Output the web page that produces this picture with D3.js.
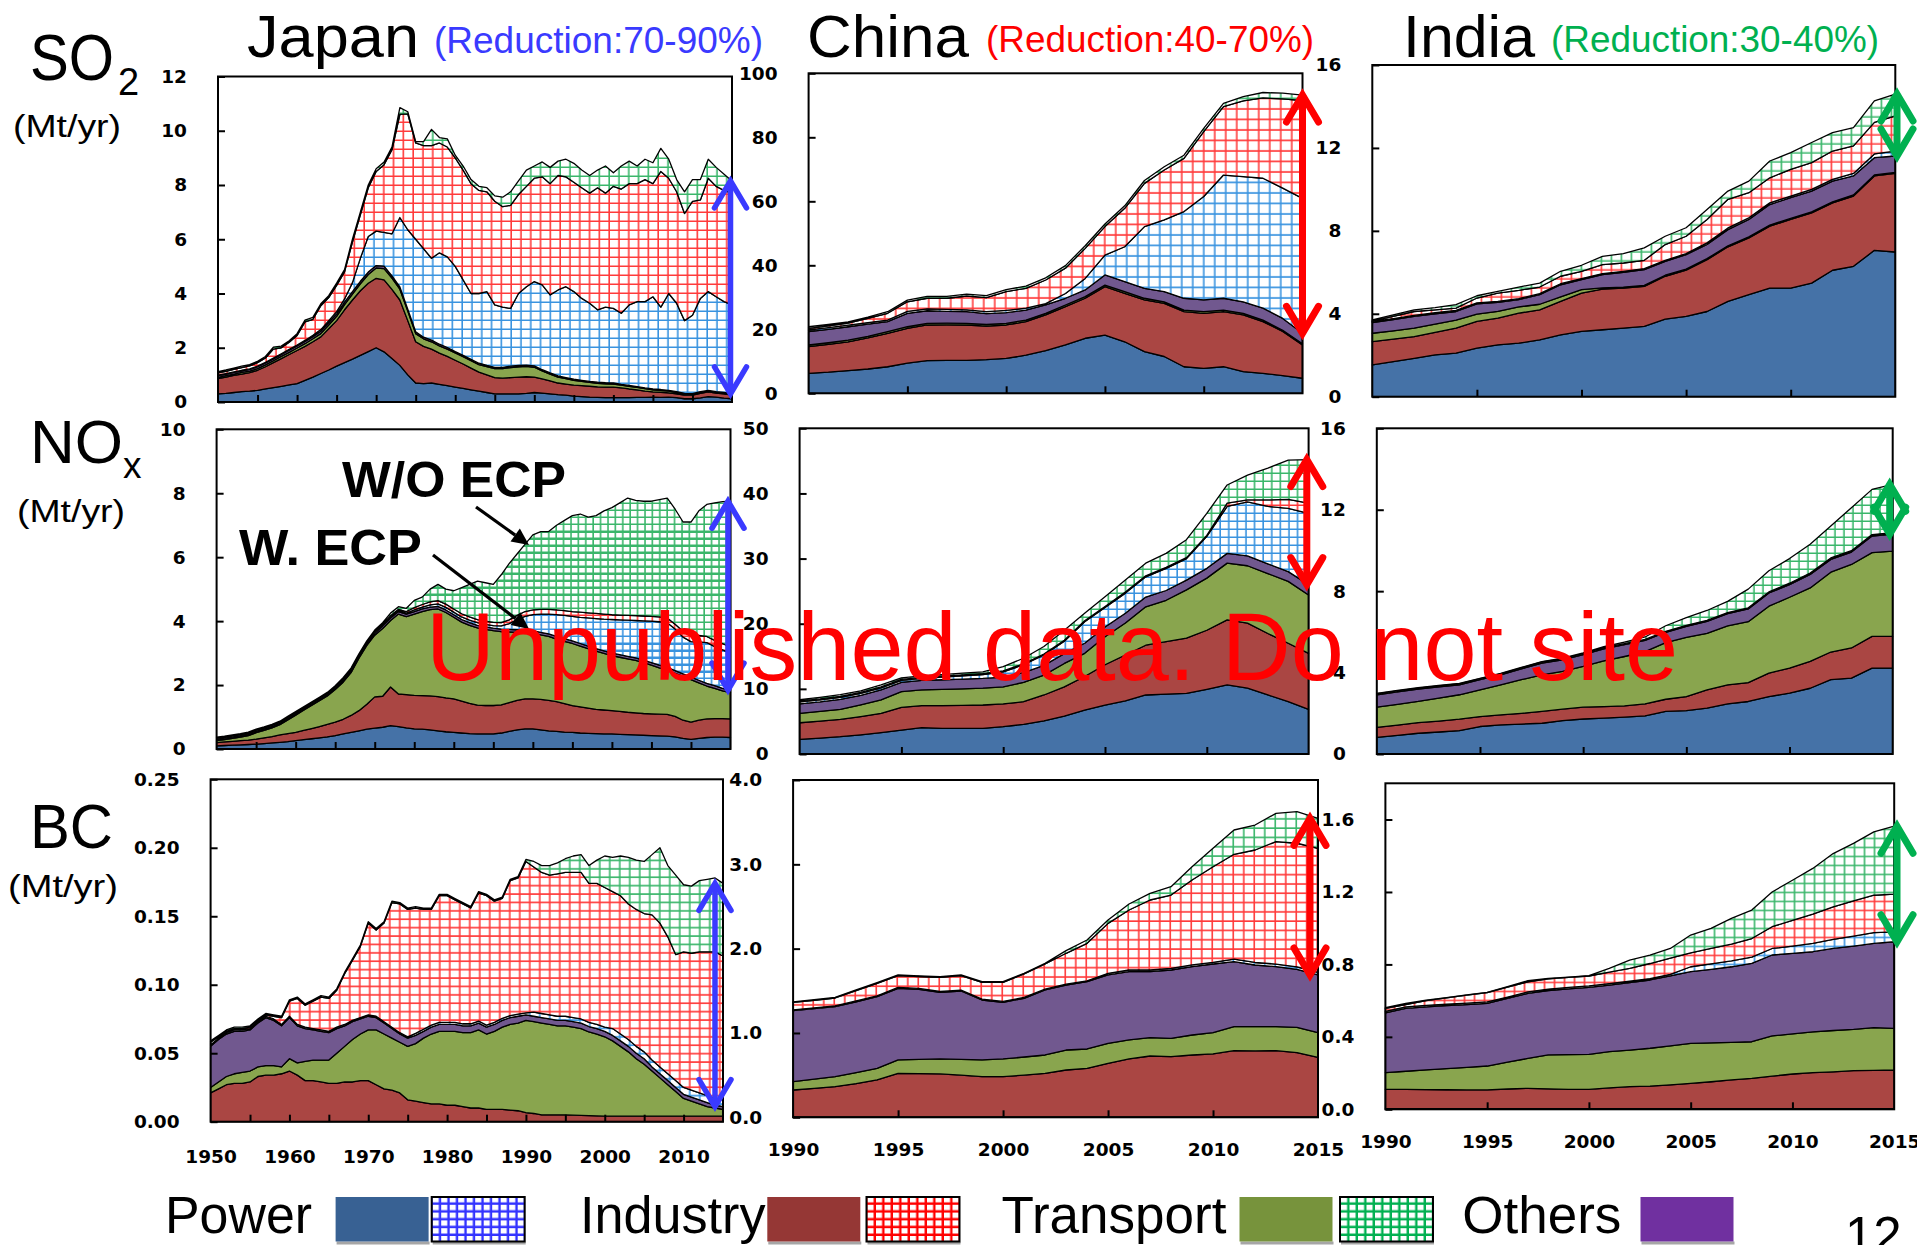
<!DOCTYPE html>
<html>
<head>
<meta charset="utf-8">
<script src="https://cdn.jsdelivr.net/npm/d3@7"></script>
<style>
  html, body { margin: 0; padding: 0; background: #fff; overflow: hidden; }
  svg { display: block; }
</style>
</head>
<body>
<svg id="chart" width="1917" height="1245"></svg>
<script>
// ---------------------------------------------------------------------------
// Emissions by sector, with (W. ECP) and without (W/O ECP) emission control
// policies. The "NoEcp" series are the extra emissions that would occur
// without the policies; they are stacked on top of the controlled emissions.
// ---------------------------------------------------------------------------

const japanFirstYear = 1950;
const recentFirstYear = 1990;
const lastYear = 2015;

const sectorNames = ["Power", "Industry", "Transport", "Others"];
const countryNames = ["Japan", "China", "India"];
const reductionTexts = ["(Reduction:70-90%)", "(Reduction:40-70%)", "(Reduction:30-40%)"];

// tick labels
const japanYearTicks = [1955, 1960, 1965, 1970, 1975, 1980, 1985, 1990, 1995, 2000, 2005, 2010];
const japanYearLabels = [1950, 1960, 1970, 1980, 1990, 2000, 2010];
const recentYearTicks = [1995, 2000, 2005, 2010];
const recentYearLabels = [1990, 1995, 2000, 2005, 2010, 2015];
const jpSo2Ticks = [0, 2, 4, 6, 8, 10, 12];
const cnSo2Ticks = [0, 20, 40, 60, 80, 100];
const inSo2Ticks = [0, 4, 8, 12, 16];
const jpNoxTicks = [0, 2, 4, 6, 8, 10];
const cnNoxTicks = [0, 10, 20, 30, 40, 50];
const inNoxTicks = [0, 4, 8, 12, 16];
const jpBcTicks = [0, 0.05, 0.10, 0.15, 0.20, 0.25];
const cnBcTicks = [0, 1, 2, 3, 4];
const inBcTicks = [0, 0.4, 0.8, 1.2, 1.6];

// ----------------------------- Japan SO2 (1950-2015)
const jpSo2Power = [
  0.30,0.32,0.35,0.38,0.40,0.43,0.48,0.53,0.58,0.63,
  0.68,0.80,0.92,1.05,1.18,1.32,1.45,1.58,1.72,1.86,
  2.00,1.85,1.60,1.35,1.00,0.70,0.68,0.70,0.65,0.60,
  0.55,0.50,0.45,0.40,0.35,0.30,0.30,0.30,0.30,0.32,
  0.35,0.33,0.30,0.27,0.25,0.22,0.20,0.18,0.17,0.16,
  0.16,0.16,0.16,0.17,0.17,0.18,0.17,0.18,0.16,0.12,
  0.12,0.15,0.20,0.18,0.14,0.12];
const jpSo2Industry = [
  0.56,0.60,0.63,0.65,0.68,0.74,0.82,0.92,1.02,1.12,
  1.22,1.25,1.30,1.35,1.52,1.68,1.95,2.18,2.38,2.52,
  2.56,2.65,2.55,2.41,2.00,1.52,1.37,1.25,1.15,1.08,
  0.99,0.90,0.80,0.70,0.65,0.60,0.58,0.60,0.62,0.61,
  0.57,0.52,0.48,0.43,0.41,0.40,0.40,0.40,0.39,0.39,
  0.39,0.36,0.32,0.28,0.23,0.19,0.19,0.16,0.14,0.13,
  0.13,0.17,0.17,0.15,0.16,0.13];
const jpSo2Transport = [
  0.05,0.05,0.05,0.06,0.06,0.06,0.07,0.07,0.08,0.08,
  0.09,0.10,0.11,0.12,0.14,0.16,0.19,0.22,0.26,0.32,
  0.38,0.42,0.42,0.40,0.35,0.30,0.28,0.27,0.27,0.27,
  0.27,0.27,0.27,0.28,0.30,0.33,0.35,0.37,0.38,0.38,
  0.36,0.30,0.25,0.22,0.20,0.18,0.16,0.14,0.13,0.12,
  0.11,0.10,0.10,0.09,0.09,0.08,0.07,0.06,0.05,0.04,
  0.03,0.03,0.03,0.02,0.02,0.02];
const jpSo2Others = [
  0.06,0.06,0.06,0.06,0.06,0.07,0.07,0.07,0.07,0.08,
  0.08,0.08,0.08,0.09,0.09,0.09,0.09,0.09,0.09,0.09,
  0.09,0.09,0.08,0.08,0.07,0.07,0.06,0.06,0.06,0.06,
  0.05,0.05,0.05,0.05,0.05,0.05,0.05,0.05,0.05,0.05,
  0.05,0.04,0.04,0.04,0.04,0.04,0.04,0.04,0.04,0.04,
  0.04,0.03,0.03,0.03,0.03,0.03,0.03,0.03,0.03,0.03,
  0.03,0.03,0.03,0.03,0.03,0.03];
const jpSo2PowerNoEcp = [
  0.02,0.02,0.02,0.02,0.02,0.02,0.02,0.03,0.03,0.03,
  0.03,0.04,0.05,0.06,0.07,0.08,0.12,0.33,0.85,1.31,
  1.27,1.24,1.55,2.56,2.93,3.41,3.26,3.02,3.37,3.34,
  3.14,2.78,2.43,2.57,2.72,2.30,2.22,2.13,2.65,2.89,
  3.11,3.13,2.88,3.17,3.35,3.23,3.02,2.88,2.67,2.79,
  2.75,2.62,2.97,3.13,3.18,3.40,3.04,3.57,3.26,2.68,
  2.89,3.44,3.64,3.50,3.35,3.28];
const jpSo2IndustryNoEcp = [
  0.08,0.08,0.09,0.10,0.11,0.13,0.16,0.33,0.22,0.26,
  0.35,0.68,0.59,0.88,0.85,0.97,1.00,1.50,1.60,1.80,
  2.20,2.50,3.10,3.80,4.27,3.55,3.80,4.15,4.05,4.05,
  4.00,4.05,4.05,3.80,3.68,3.82,3.70,3.80,3.65,3.70,
  3.81,3.98,4.10,4.22,4.05,4.03,4.08,4.06,4.50,4.20,
  4.50,4.58,4.47,4.35,4.50,4.17,5.00,4.25,4.11,3.95,
  4.20,3.63,4.18,4.07,4.10,4.12];
const jpSo2TransportNoEcp = [
  0.05,0.05,0.05,0.05,0.05,0.05,0.06,0.07,0.06,0.06,
  0.07,0.07,0.07,0.07,0.07,0.08,0.08,0.10,0.10,0.10,
  0.10,0.10,0.10,0.25,0.08,0.05,0.15,0.60,0.20,0.30,
  0.10,0.15,0.15,0.15,0.15,0.20,0.35,0.50,0.50,0.60,
  0.45,0.55,0.60,0.53,0.65,0.70,0.65,0.65,0.65,1.00,
  0.50,0.85,0.83,0.65,0.75,0.77,0.85,0.70,0.45,0.80,
  0.80,0.75,0.70,0.70,0.60,0.45];

// ----------------------------- Japan NOx (1950-2015)
const jpNoxPower = [
  0.10,0.11,0.12,0.13,0.14,0.15,0.17,0.19,0.21,0.23,
  0.26,0.29,0.32,0.35,0.38,0.42,0.47,0.52,0.57,0.62,
  0.65,0.68,0.73,0.70,0.66,0.63,0.62,0.60,0.57,0.54,
  0.52,0.50,0.48,0.47,0.47,0.47,0.50,0.55,0.60,0.63,
  0.63,0.60,0.57,0.55,0.53,0.52,0.50,0.49,0.48,0.47,
  0.47,0.46,0.45,0.44,0.43,0.42,0.41,0.40,0.38,0.33,
  0.30,0.33,0.36,0.37,0.37,0.36];
const jpNoxIndustry = [
  0.10,0.11,0.12,0.13,0.14,0.16,0.18,0.20,0.23,0.25,
  0.26,0.29,0.32,0.35,0.39,0.42,0.46,0.53,0.63,0.78,
  0.98,0.97,1.21,1.02,1.04,1.05,1.05,1.06,1.07,1.06,
  1.05,1.00,0.95,0.90,0.89,0.89,0.88,0.90,0.92,0.94,
  0.94,0.95,0.95,0.93,0.89,0.84,0.82,0.79,0.76,0.75,
  0.73,0.72,0.70,0.69,0.68,0.68,0.68,0.68,0.64,0.57,
  0.54,0.57,0.58,0.58,0.58,0.58];
const jpNoxTransport = [
  0.06,0.07,0.09,0.11,0.14,0.20,0.23,0.27,0.32,0.43,
  0.54,0.63,0.72,0.81,0.89,1.02,1.16,1.34,1.64,1.84,
  1.93,2.12,2.08,2.50,2.44,2.54,2.63,2.70,2.74,2.67,
  2.55,2.47,2.44,2.42,2.38,2.34,2.29,2.21,2.13,2.07,
  2.05,2.02,2.00,1.96,1.95,1.94,1.90,1.86,1.82,1.77,
  1.72,1.69,1.67,1.64,1.59,1.52,1.45,1.39,1.35,1.37,
  1.33,1.17,1.03,0.95,0.87,0.82];
const jpNoxOthers = [
  0.04,0.04,0.04,0.04,0.04,0.04,0.04,0.04,0.04,0.04,
  0.04,0.04,0.04,0.04,0.04,0.04,0.06,0.06,0.06,0.06,
  0.06,0.08,0.08,0.08,0.08,0.08,0.08,0.08,0.08,0.08,
  0.08,0.08,0.08,0.08,0.08,0.08,0.08,0.08,0.08,0.08,
  0.08,0.08,0.08,0.08,0.08,0.08,0.08,0.08,0.08,0.08,
  0.08,0.08,0.08,0.08,0.08,0.08,0.08,0.08,0.08,0.08,
  0.08,0.08,0.08,0.08,0.08,0.08];
const jpNoxPowerNoEcp = [
  0.01,0.01,0.01,0.01,0.01,0.01,0.01,0.01,0.01,0.01,
  0.01,0.01,0.01,0.01,0.01,0.01,0.01,0.01,0.01,0.01,
  0.02,0.02,0.03,0.03,0.03,0.05,0.06,0.07,0.08,0.08,
  0.08,0.08,0.08,0.08,0.08,0.08,0.10,0.18,0.32,0.43,
  0.50,0.57,0.62,0.68,0.73,0.77,0.82,0.88,0.94,0.99,
  1.05,1.09,1.13,1.17,1.23,1.30,1.36,1.40,1.30,1.15,
  1.11,1.20,1.28,1.22,1.20,1.16];
const jpNoxIndustryNoEcp = [
  0.02,0.02,0.02,0.02,0.02,0.02,0.02,0.02,0.02,0.02,
  0.02,0.02,0.02,0.02,0.02,0.02,0.02,0.02,0.02,0.02,
  0.03,0.03,0.04,0.04,0.05,0.07,0.08,0.09,0.10,0.10,
  0.10,0.10,0.10,0.10,0.10,0.10,0.10,0.12,0.13,0.15,
  0.15,0.15,0.15,0.15,0.15,0.15,0.16,0.16,0.16,0.16,
  0.15,0.15,0.15,0.15,0.15,0.15,0.15,0.15,0.15,0.18,
  0.19,0.20,0.19,0.20,0.20,0.18];
const jpNoxTransportNoEcp = [
  0.04,0.04,0.04,0.04,0.04,0.04,0.04,0.04,0.04,0.04,
  0.04,0.04,0.04,0.04,0.04,0.05,0.05,0.05,0.05,0.05,
  0.05,0.05,0.08,0.08,0.10,0.23,0.23,0.40,0.51,0.47,
  0.57,0.82,1.02,1.20,1.20,1.19,1.50,1.76,1.92,2.10,
  2.35,2.43,2.43,2.65,2.82,3.00,3.07,2.99,3.06,3.23,
  3.35,3.51,3.67,3.61,3.59,3.60,3.67,3.75,3.60,3.42,
  3.55,3.90,4.13,4.30,4.44,4.57];

// ----------------------------- Japan BC (1950-2015)
const jpBcPower = [
  0,0,0,0,0,0,0,0,0,0,
  0,0,0,0,0,0,0,0,0,0,
  0,0,0,0,0,0,0,0,0,0,
  0,0,0,0,0,0,0,0,0,0,
  0,0,0,0,0,0,0,0,0,0,
  0,0,0,0,0,0,0,0,0,0,
  0,0,0,0,0,0];
const jpBcIndustry = [
  0.021,0.024,0.027,0.028,0.028,0.029,0.033,0.034,0.034,0.035,
  0.037,0.034,0.030,0.030,0.029,0.028,0.028,0.029,0.029,0.030,
  0.030,0.027,0.024,0.023,0.021,0.016,0.015,0.014,0.013,0.013,
  0.012,0.012,0.011,0.010,0.010,0.009,0.009,0.009,0.0085,0.008,
  0.0066,0.006,0.005,0.005,0.005,0.005,0.0048,0.0046,0.0044,0.0042,
  0.004,0.004,0.004,0.004,0.004,0.004,0.004,0.004,0.004,0.004,
  0.004,0.004,0.004,0.004,0.004,0.004];
const jpBcTransport = [
  0.004,0.005,0.006,0.007,0.008,0.008,0.007,0.007,0.007,0.005,
  0.009,0.009,0.014,0.015,0.016,0.017,0.022,0.026,0.031,0.034,
  0.037,0.040,0.040,0.038,0.037,0.039,0.042,0.047,0.051,0.053,
  0.054,0.054,0.054,0.055,0.057,0.055,0.057,0.060,0.0625,0.064,
  0.0674,0.067,0.067,0.066,0.065,0.065,0.0642,0.0634,0.0611,0.0598,
  0.058,0.055,0.051,0.047,0.042,0.038,0.033,0.028,0.023,0.018,
  0.013,0.011,0.009,0.007,0.006,0.005];
const jpBcOthers = [
  0.030,0.031,0.031,0.031,0.030,0.030,0.032,0.035,0.033,0.030,
  0.030,0.027,0.024,0.022,0.021,0.020,0.018,0.015,0.013,0.011,
  0.010,0.009,0.008,0.007,0.006,0.006,0.006,0.005,0.005,0.005,
  0.005,0.005,0.005,0.005,0.005,0.005,0.005,0.005,0.005,0.005,
  0.004,0.004,0.004,0.004,0.004,0.004,0.004,0.004,0.004,0.004,
  0.004,0.004,0.004,0.004,0.004,0.004,0.003,0.003,0.003,0.003,
  0.003,0.003,0.003,0.003,0.002,0.002];
const jpBcPowerNoEcp = [
  0.001,0.001,0.001,0.001,0.001,0.001,0.001,0.001,0.001,0.001,
  0.001,0.001,0.001,0.001,0.001,0.001,0.001,0.001,0.001,0.001,
  0.001,0.001,0.001,0.001,0.001,0.001,0.0015,0.0015,0.0015,0.0015,
  0.0015,0.0015,0.0015,0.0015,0.0015,0.0015,0.0015,0.0015,0.0015,0.0015,
  0.0015,0.003,0.003,0.003,0.003,0.003,0.003,0.003,0.003,0.003,
  0.003,0.005,0.005,0.005,0.005,0.005,0.005,0.005,0.005,0.005,
  0.005,0.005,0.005,0.005,0.005,0.005];
const jpBcIndustryNoEcp = [
  0.002,0.001,0.001,0.001,0.001,0.001,0.001,0.001,0.002,0.005,
  0.011,0.019,0.016,0.020,0.024,0.024,0.027,0.037,0.044,0.052,
  0.067,0.063,0.072,0.091,0.094,0.093,0.0915,0.0875,0.0845,0.0925,
  0.0925,0.0895,0.0875,0.0845,0.0935,0.0945,0.0885,0.0875,0.0985,0.0995,
  0.1105,0.106,0.103,0.102,0.104,0.105,0.106,0.107,0.1015,0.103,
  0.102,0.100,0.101,0.099,0.100,0.101,0.106,0.105,0.100,0.092,
  0.099,0.100,0.103,0.105,0.107,0.105];
const jpBcTransportNoEcp = [
  0.001,0.001,0.001,0.001,0.001,0.001,0.001,0.001,0.001,0.001,
  0.001,0.001,0.001,0.001,0.001,0.001,0.001,0.001,0.001,0.001,
  0.001,0.001,0.001,0.001,0.001,0.001,0.001,0.001,0.001,0.001,
  0.001,0.001,0.001,0.001,0.001,0.001,0.001,0.001,0.001,0.001,
  0.0015,0.004,0.005,0.007,0.008,0.010,0.012,0.013,0.013,0.017,
  0.023,0.025,0.029,0.034,0.036,0.038,0.044,0.055,0.052,0.058,
  0.049,0.049,0.052,0.053,0.054,0.053];

// ----------------------------- China SO2 (1990-2015)
const cnSo2Power = [6.25,6.6,7.1,7.6,8.3,9.4,10.2,10.3,10.3,10.5,10.9,11.9,13.3,15.1,17.2,18.2,16.1,13.0,11.5,8.3,7.8,8.3,6.8,6.25,5.5,4.7];
const cnSo2Industry = [8.35,8.7,9.0,9.7,10.45,10.9,11.15,11.1,11.05,10.5,10.45,10.5,11.2,12.0,12.5,15.1,15.15,16.2,16.6,17.2,17.2,17.2,17.7,16.15,13.8,10.4];
const cnSo2Transport = [0.5,0.5,0.5,0.5,0.5,0.5,0.5,0.5,0.5,0.5,0.5,0.5,0.5,0.5,0.5,0.5,0.5,0.5,0.5,0.5,0.5,0.5,0.5,0.45,0.4,0.4];
const cnSo2Others = [4.2,4.2,4.2,3.8,3.15,4.2,3.95,3.7,3.65,3.4,3.35,3.1,2.6,2.1,2.1,3.2,3.15,3.1,3.2,3.7,3.7,3.7,3.6,3.75,3.7,3.25];
const cnSo2PowerNoEcp = [0.5,0.5,0.5,0.5,0.5,0.6,0.6,0.6,0.6,0.6,0.7,0.6,0.4,1.5,3.6,6.2,10.9,19.3,22.4,27.1,32.3,38.5,39.1,40.6,40.7,42.15];
const cnSo2IndustryNoEcp = [0.5,0.6,0.6,1.3,2.1,3.0,3.3,3.5,4.3,4.4,5.9,6.2,7.4,7.9,9.4,8.9,12.0,13.5,15.6,16.6,20.3,21.4,23.7,25.1,27.9,30.6];
const cnSo2TransportNoEcp = [0.5,0.4,0.4,0.4,0.5,0.5,0.6,0.6,0.6,0.6,0.6,0.7,0.7,0.8,0.8,0.8,0.8,0.9,1.0,1.0,1.0,1.0,1.3,1.7,1.8,1.7];

// ----------------------------- China NOx (1990-2015)
const cnNoxPower = [2.25,2.45,2.66,2.95,3.28,3.68,4.04,3.94,3.94,3.94,4.2,4.55,5.1,5.83,6.75,7.5,8.14,9.06,9.2,9.3,9.93,10.6,10.1,9.06,8.03,6.86];
const cnNoxIndustry = [2.55,2.6,2.64,2.8,2.96,3.48,3.38,3.48,3.53,3.58,3.48,3.48,3.96,4.47,5.15,6.2,7.06,7.64,8.05,8.5,9.07,10.0,10.0,9.44,8.97,8.59];
const cnNoxTransport = [1.44,1.5,1.56,1.8,2.06,2.41,2.41,2.51,2.53,2.58,2.62,2.97,3.04,3.6,3.55,4.3,4.9,5.9,6.35,7.4,8.0,8.7,8.8,9.2,9.5,8.95];
const cnNoxOthers = [1.46,1.45,1.54,1.45,1.55,1.43,1.47,1.47,1.5,1.5,1.5,1.5,1.5,1.5,1.55,1.5,1.5,1.5,1.5,1.5,1.5,1.5,1.5,1.5,1.5,1.6];
const cnNoxPowerNoEcp = [0.3,0.3,0.3,0.3,0.3,0.3,0.3,0.4,0.5,0.6,0.8,1.2,1.6,1.9,3.3,3.0,3.1,3.1,3.4,3.3,4.9,7.2,8.3,8.8,9.7,10.95];
const cnNoxIndustryNoEcp = [0.15,0.15,0.15,0.15,0.15,0.15,0.15,0.15,0.15,0.15,0.15,0.15,0.15,0.15,0.15,0.15,0.15,0.15,0.15,0.15,0.15,0.5,0.3,1.0,1.4,1.55];
const cnNoxTransportNoEcp = [0.2,0.25,0.25,0.25,0.3,0.25,0.25,0.25,0.25,0.25,0.65,0.85,1.15,1.55,1.15,1.5,1.85,1.95,2.15,2.75,3.4,2.8,3.8,4.9,6.0,6.7];

// ----------------------------- China BC (1990-2015)
const cnBcPower = [0.005,0.005,0.005,0.005,0.005,0.005,0.005,0.005,0.005,0.005,0.005,0.005,0.005,0.005,0.005,0.005,0.005,0.005,0.005,0.005,0.005,0.005,0.005,0.005,0.005,0.005];
const cnBcIndustry = [0.319,0.339,0.359,0.395,0.438,0.517,0.513,0.509,0.495,0.477,0.477,0.495,0.517,0.556,0.576,0.635,0.687,0.722,0.714,0.734,0.746,0.785,0.782,0.785,0.762,0.706];
const cnBcTransport = [0.099,0.108,0.118,0.13,0.138,0.158,0.168,0.178,0.186,0.198,0.21,0.215,0.217,0.237,0.229,0.237,0.225,0.218,0.218,0.237,0.253,0.285,0.288,0.285,0.30,0.293];
const cnBcOthers = [0.842,0.836,0.83,0.84,0.85,0.85,0.832,0.79,0.812,0.711,0.672,0.696,0.771,0.771,0.799,0.811,0.81,0.782,0.81,0.811,0.814,0.771,0.731,0.712,0.688,0.684];
const cnBcPowerNoEcp = [0.01,0.01,0.01,0.01,0.01,0.01,0.01,0.01,0.01,0.01,0.01,0.01,0.01,0.01,0.01,0.02,0.02,0.02,0.02,0.02,0.02,0.03,0.03,0.03,0.03,0.03];
const cnBcIndustryNoEcp = [0.087,0.089,0.093,0.122,0.148,0.14,0.142,0.168,0.172,0.20,0.227,0.279,0.298,0.366,0.444,0.592,0.711,0.83,0.869,1.007,1.134,1.243,1.334,1.453,1.465,1.472];
const cnBcTransportNoEcp = [0.008,0.008,0.008,0.008,0.008,0.008,0.008,0.008,0.008,0.008,0.008,0.008,0.008,0.031,0.04,0.04,0.072,0.079,0.099,0.158,0.218,0.288,0.296,0.335,0.375,0.355];

// ----------------------------- India SO2 (1990-2015)
const inSo2Power = [1.53,1.69,1.85,2.02,2.1,2.34,2.5,2.58,2.74,2.98,3.15,3.23,3.31,3.39,3.74,3.87,4.11,4.6,4.92,5.24,5.24,5.48,6.1,6.29,7.06,6.98];
const inSo2Industry = [1.13,1.09,1.05,1.08,1.21,1.29,1.29,1.45,1.45,1.62,1.85,1.96,1.93,1.93,2.07,2.23,2.5,2.63,2.74,2.99,3.31,3.39,3.25,3.39,3.59,3.79];
const inSo2Transport = [0.40,0.40,0.41,0.40,0.38,0.35,0.33,0.30,0.27,0.22,0.16,0.06,0.05,0.05,0.05,0.05,0.05,0.05,0.05,0.05,0.05,0.05,0.05,0.05,0.05,0.05];
const inSo2Others = [0.52,0.54,0.56,0.50,0.42,0.50,0.43,0.35,0.46,0.58,0.49,0.64,0.71,0.76,0.67,0.70,0.68,0.78,0.84,0.99,1.0,1.0,1.0,0.92,0.83,0.79];
const inSo2PowerNoEcp = [0.05,0.05,0.05,0.05,0.05,0.05,0.05,0.05,0.05,0.05,0.05,0.05,0.05,0.05,0.05,0.05,0.08,0.08,0.08,0.08,0.08,0.08,0.08,0.12,0.18,0.24];
const inSo2IndustryNoEcp = [0.02,0.10,0.19,0.14,0.11,0.23,0.40,0.40,0.32,0.36,0.35,0.43,0.40,0.40,0.76,0.84,1.13,1.38,1.21,1.21,1.29,1.29,1.37,1.33,1.52,1.70];
const inSo2TransportNoEcp = [0.05,0.08,0.08,0.11,0.17,0.11,0.08,0.16,0.19,0.24,0.29,0.40,0.45,0.60,0.40,0.41,0.48,0.40,0.56,0.81,0.80,0.97,0.89,0.88,1.04,1.05];

// ----------------------------- India NOx (1990-2015)
const inNoxPower = [0.82,0.92,1.02,1.08,1.15,1.35,1.43,1.47,1.51,1.64,1.72,1.76,1.81,1.87,2.09,2.13,2.25,2.46,2.58,2.82,2.99,3.23,3.65,3.73,4.22,4.22];
const inNoxIndustry = [0.49,0.50,0.52,0.54,0.56,0.49,0.49,0.53,0.58,0.56,0.58,0.57,0.55,0.59,0.60,0.69,0.90,0.94,0.93,1.15,1.23,1.32,1.36,1.48,1.56,1.56];
const inNoxTransport = [0.99,1.02,1.04,1.13,1.20,1.31,1.48,1.65,1.80,1.86,2.0,2.24,2.43,2.57,2.78,2.91,2.78,2.89,2.99,3.29,3.48,3.61,3.92,4.10,4.11,4.19];
const inNoxOthers = [0.61,0.61,0.61,0.55,0.49,0.50,0.49,0.53,0.58,0.57,0.58,0.59,0.58,0.55,0.51,0.54,0.59,0.61,0.63,0.65,0.62,0.66,0.63,0.61,0.82,0.83];
const inNoxPowerNoEcp = [0.03,0.03,0.03,0.03,0.03,0.03,0.03,0.03,0.03,0.03,0.03,0.03,0.03,0.03,0.03,0.03,0.03,0.03,0.03,0.03,0.05,0.05,0.05,0.05,0.05,0.05];
const inNoxIndustryNoEcp = [0.02,0.02,0.02,0.02,0.02,0.02,0.02,0.02,0.02,0.02,0.02,0.02,0.02,0.02,0.02,0.02,0.02,0.02,0.02,0.02,0.02,0.02,0.02,0.02,0.02,0.02];
const inNoxTransportNoEcp = [0.02,0.02,0.02,0.02,0.02,0.02,0.02,0.02,0.02,0.03,0.04,0.06,0.08,0.12,0.27,0.38,0.48,0.55,0.92,1.04,1.21,1.41,1.57,2.11,2.22,2.38];

// ----------------------------- India BC (1990-2015)
const inBcPower = [0.003,0.003,0.003,0.003,0.003,0.003,0.003,0.003,0.003,0.003,0.003,0.003,0.003,0.003,0.003,0.003,0.003,0.003,0.003,0.003,0.003,0.003,0.003,0.003,0.003,0.003];
const inBcIndustry = [0.107,0.107,0.106,0.105,0.104,0.104,0.109,0.113,0.11,0.107,0.107,0.115,0.122,0.125,0.132,0.14,0.149,0.159,0.168,0.18,0.192,0.199,0.204,0.21,0.212,0.214];
const inBcTransport = [0.092,0.10,0.109,0.117,0.125,0.132,0.148,0.165,0.187,0.192,0.193,0.20,0.202,0.209,0.215,0.221,0.215,0.208,0.202,0.222,0.221,0.226,0.228,0.228,0.236,0.23];
const inBcOthers = [0.331,0.347,0.348,0.347,0.346,0.346,0.352,0.359,0.356,0.363,0.37,0.368,0.372,0.377,0.387,0.396,0.406,0.417,0.433,0.447,0.445,0.442,0.453,0.46,0.465,0.478];
const inBcPowerNoEcp = [0.008,0.008,0.008,0.008,0.008,0.008,0.008,0.008,0.008,0.008,0.008,0.008,0.008,0.008,0.008,0.027,0.03,0.032,0.034,0.036,0.04,0.046,0.05,0.055,0.06,0.055];
const inBcIndustryNoEcp = [0.016,0.013,0.026,0.035,0.044,0.051,0.054,0.056,0.056,0.055,0.055,0.063,0.071,0.083,0.09,0.077,0.085,0.093,0.103,0.12,0.142,0.162,0.18,0.195,0.206,0.208];
const inBcTransportNoEcp = [0.005,0.007,0.003,0.002,0.002,0.002,0.003,0.006,0.003,0.002,0.002,0.021,0.046,0.046,0.053,0.098,0.111,0.142,0.157,0.192,0.222,0.252,0.294,0.317,0.35,0.375];

// ---------------------------------------------------------------------------
// Styling and layout
// ---------------------------------------------------------------------------
const layerKeys = ["power", "industry", "transport", "others", "powerNoEcp", "industryNoEcp", "transportNoEcp"];
const solidFill = { power: "#4572a7", industry: "#aa4643", transport: "#89a54e", others: "#71588f" };
const hatchStroke = { powerNoEcp: "#2388dc", industryNoEcp: "#ff2525", transportNoEcp: "#25ae5a" };
const legendSolid = ["#386193", "#953735", "#77933c", "#7030a0"];
const legendHatch = ["#3333ff", "#ff0000", "#00b050"];
const countryColor = ["#3a3aff", "#ff0000", "#00b050"];
const tickFont = "'DejaVu Sans', sans-serif";
const textFont = "'Liberation Sans', Arial, sans-serif";

const panels = [
  // row 1: SO2
  { id: "jpSo2", col: 0, row: 0, start: japanFirstYear, yMax: 12, ticks: jpSo2Ticks, fmt: d3.format("d"),
    layers: [jpSo2Power, jpSo2Industry, jpSo2Transport, jpSo2Others, jpSo2PowerNoEcp, jpSo2IndustryNoEcp, jpSo2TransportNoEcp],
    box: [218, 76.5, 732, 402], cell: [9.8, 9], arrowDx: -1.5 },
  { id: "cnSo2", col: 1, row: 0, start: recentFirstYear, yMax: 100, ticks: cnSo2Ticks, fmt: d3.format("d"),
    layers: [cnSo2Power, cnSo2Industry, cnSo2Transport, cnSo2Others, cnSo2PowerNoEcp, cnSo2IndustryNoEcp, cnSo2TransportNoEcp],
    box: [808.6, 73.3, 1302.5, 393.3], cell: [11, 10.5], arrowDx: 0 },
  { id: "inSo2", col: 2, row: 0, start: recentFirstYear, yMax: 16, ticks: inSo2Ticks, fmt: d3.format("d"),
    layers: [inSo2Power, inSo2Industry, inSo2Transport, inSo2Others, inSo2PowerNoEcp, inSo2IndustryNoEcp, inSo2TransportNoEcp],
    box: [1372.3, 65, 1895.3, 396.7], cell: [10, 9], arrowDx: 1.7 },
  // row 2: NOx
  { id: "jpNox", col: 0, row: 1, start: japanFirstYear, yMax: 10, ticks: jpNoxTicks, fmt: d3.format("d"),
    layers: [jpNoxPower, jpNoxIndustry, jpNoxTransport, jpNoxOthers, jpNoxPowerNoEcp, jpNoxIndustryNoEcp, jpNoxTransportNoEcp],
    box: [216.6, 429.3, 730.5, 749], cell: [7.4, 7], arrowDx: -2.5 },
  { id: "cnNox", col: 1, row: 1, start: recentFirstYear, yMax: 50, ticks: cnNoxTicks, fmt: d3.format("d"),
    layers: [cnNoxPower, cnNoxIndustry, cnNoxTransport, cnNoxOthers, cnNoxPowerNoEcp, cnNoxIndustryNoEcp, cnNoxTransportNoEcp],
    box: [799.6, 428.3, 1308.6, 754], cell: [8.6, 8], arrowDx: -1.8 },
  { id: "inNox", col: 2, row: 1, start: recentFirstYear, yMax: 16, ticks: inNoxTicks, fmt: d3.format("d"),
    layers: [inNoxPower, inNoxIndustry, inNoxTransport, inNoxOthers, inNoxPowerNoEcp, inNoxIndustryNoEcp, inNoxTransportNoEcp],
    box: [1376.8, 428.3, 1892.7, 754], cell: [9, 8], arrowDx: -3 },
  // row 3: BC
  { id: "jpBc", col: 0, row: 2, start: japanFirstYear, yMax: 0.25, ticks: jpBcTicks, fmt: d3.format(".2f"),
    layers: [jpBcPower, jpBcIndustry, jpBcTransport, jpBcOthers, jpBcPowerNoEcp, jpBcIndustryNoEcp, jpBcTransportNoEcp],
    box: [210.6, 779.3, 723, 1121.7], cell: [10, 8.4], arrowDx: -8, labelGap: 28 },
  { id: "cnBc", col: 1, row: 2, start: recentFirstYear, yMax: 4, ticks: cnBcTicks, fmt: d3.format(".1f"),
    layers: [cnBcPower, cnBcIndustry, cnBcTransport, cnBcOthers, cnBcPowerNoEcp, cnBcIndustryNoEcp, cnBcTransportNoEcp],
    box: [793.1, 780, 1318, 1117.3], cell: [10.5, 9.3], arrowDx: -8, labelGap: 26 },
  { id: "inBc", col: 2, row: 2, start: recentFirstYear, yMax: 1.8, ticks: inBcTicks, fmt: d3.format(".1f"),
    layers: [inBcPower, inBcIndustry, inBcTransport, inBcOthers, inBcPowerNoEcp, inBcIndustryNoEcp, inBcTransportNoEcp],
    box: [1385.4, 783.3, 1894.2, 1109.3], cell: [10, 9], arrowDx: 2.8, labelGap: 26 }
];

const svg = d3.select("#chart");
const defs = svg.append("defs");
const chartLayer = svg.append("g");
const annoLayer = svg.append("g");

// vertical double-headed open arrow
function doubleArrow(g, x, yTop, yBottom, color, width) {
  const wing = 27, half = 16;
  const a = g.append("g").attr("fill", "none").attr("stroke", color)
    .attr("stroke-width", width).attr("stroke-linecap", "round").attr("stroke-linejoin", "miter");
  a.append("path").attr("d", `M${x},${yTop + 2}V${yBottom - 2}`);
  a.append("path").attr("d", `M${x - half},${yTop + wing}L${x},${yTop}L${x + half},${yTop + wing}`);
  a.append("path").attr("d", `M${x - half},${yBottom - wing}L${x},${yBottom}L${x + half},${yBottom - wing}`);
}

// straight pointer with a filled head
function pointer(g, x1, y1, x2, y2) {
  const len = Math.hypot(x2 - x1, y2 - y1);
  const ux = (x2 - x1) / len, uy = (y2 - y1) / len;
  const hl = 17, hw = 8;
  const bx = x2 - ux * hl, by = y2 - uy * hl;
  g.append("line").attr("x1", x1).attr("y1", y1).attr("x2", bx).attr("y2", by)
    .attr("stroke", "#000").attr("stroke-width", 3.2);
  g.append("path")
    .attr("d", `M${x2},${y2}L${bx - uy * hw},${by + ux * hw}L${bx + uy * hw},${by - ux * hw}Z`)
    .attr("fill", "#000");
}

panels.forEach(p => {
  const [x0, y0, x1, y1] = p.box;
  const years = d3.range(p.start, lastYear + 1);
  const x = d3.scaleLinear().domain([p.start, lastYear]).range([x0, x1]);
  const y = d3.scaleLinear().domain([0, p.yMax]).range([y1, y0]);

  const rows = years.map((yr, i) => {
    const r = { year: yr };
    layerKeys.forEach((k, j) => { r[k] = p.layers[j][i]; });
    return r;
  });
  const series = d3.stack().keys(layerKeys)(rows);

  // grid hatch patterns for the "without policy" layers
  const [cw, ch] = p.cell;
  Object.keys(hatchStroke).forEach(k => {
    const pat = defs.append("pattern").attr("id", `hatch-${p.id}-${k}`)
      .attr("patternUnits", "userSpaceOnUse").attr("x", x0).attr("y", y1)
      .attr("width", cw).attr("height", ch);
    pat.append("rect").attr("width", cw).attr("height", ch).attr("fill", "#fff");
    pat.append("path").attr("d", `M0,${ch - 0.8}H${cw}M${cw - 0.8},0V${ch}`)
      .attr("stroke", hatchStroke[k]).attr("stroke-width", 1.6).attr("stroke-opacity", 0.9);
  });

  const g = chartLayer.append("g").attr("class", `panel ${p.id}`);
  const area = d3.area().x(d => x(d.data.year)).y0(d => y(d[0])).y1(d => y(d[1]));

  g.selectAll("path.layer").data(series).join("path")
    .attr("class", "layer")
    .attr("d", area)
    .attr("fill", s => solidFill[s.key] || `url(#hatch-${p.id}-${s.key})`)
    .attr("stroke", "#000").attr("stroke-width", 1.3).attr("stroke-linejoin", "round");

  // left axis: labels outside, ticks pointing inward
  const yAxis = g.append("g").attr("transform", `translate(${x0},0)`)
    .call(d3.axisLeft(y).tickValues(p.ticks).tickFormat(p.fmt)
      .tickSizeInner(-7).tickSizeOuter(0).tickPadding(31));
  yAxis.select(".domain").remove();
  yAxis.selectAll("line").attr("stroke", "#000").attr("stroke-width", 2);
  yAxis.selectAll("text").attr("font-family", tickFont).attr("font-weight", "bold")
    .attr("font-size", 18.5).attr("fill", "#000");

  // bottom tick marks, pointing inward
  const xTickValues = p.start === japanFirstYear ? japanYearTicks : recentYearTicks;
  const xAxis = g.append("g").attr("transform", `translate(0,${y1})`)
    .call(d3.axisBottom(x).tickValues(xTickValues).tickFormat("")
      .tickSizeInner(-7).tickSizeOuter(0));
  xAxis.select(".domain").remove();
  xAxis.selectAll("line").attr("stroke", "#000").attr("stroke-width", 2);

  // year labels on the bottom row only
  if (p.row === 2) {
    const labels = p.start === japanFirstYear ? japanYearLabels : recentYearLabels;
    const lab = g.append("g").attr("transform", `translate(0,${y1})`)
      .call(d3.axisBottom(x).tickValues(labels).tickFormat(d3.format("d"))
        .tickSize(0).tickPadding(p.labelGap));
    lab.select(".domain").remove();
    lab.selectAll("text").attr("font-family", tickFont).attr("font-weight", "bold")
      .attr("font-size", 18.5).attr("fill", "#000");
  }

  // frame
  g.append("rect").attr("x", x0).attr("y", y0).attr("width", x1 - x0).attr("height", y1 - y0)
    .attr("fill", "none").attr("stroke", "#000").attr("stroke-width", 2);

  // reduction arrow at the last year: from total without policies down to total with policies
  const last = rows.length - 1;
  const topVal = series[series.length - 1][last][1];
  const ctrlVal = series[3][last][1];
  doubleArrow(annoLayer, x1 + p.arrowDx, y(topVal), y(ctrlVal), countryColor[p.col], p.col === 0 ? 5.5 : 7);
});

// ---------------------------------------------------------------------------
// Titles and labels
// ---------------------------------------------------------------------------
const t = svg.append("g").attr("font-family", textFont).attr("fill", "#000");

const colTitles = [
  { x: 247, len: 172, rx: 434, rlen: 329, rb: 53 },
  { x: 807, len: 162, rx: 986, rlen: 328, rb: 52 },
  { x: 1403, len: 132, rx: 1551, rlen: 328, rb: 52 }
];
colTitles.forEach((c, i) => {
  t.append("text").attr("x", c.x).attr("y", 57).attr("font-size", 60)
    .attr("textLength", c.len).attr("lengthAdjust", "spacingAndGlyphs").text(countryNames[i]);
  t.append("text").attr("x", c.rx).attr("y", c.rb).attr("font-size", 36).attr("fill", countryColor[i])
    .attr("textLength", c.rlen).attr("lengthAdjust", "spacingAndGlyphs").text(reductionTexts[i]);
});

// species labels
t.append("text").attr("x", 30).attr("y", 80).attr("font-size", 65)
  .attr("textLength", 84).attr("lengthAdjust", "spacingAndGlyphs").text("SO");
t.append("text").attr("x", 118).attr("y", 95).attr("font-size", 38).text("2");
t.append("text").attr("x", 30).attr("y", 463).attr("font-size", 61)
  .attr("textLength", 93).attr("lengthAdjust", "spacingAndGlyphs").text("NO");
t.append("text").attr("x", 123).attr("y", 478).attr("font-size", 37).text("x");
t.append("text").attr("x", 30).attr("y", 848).attr("font-size", 63)
  .attr("textLength", 83).attr("lengthAdjust", "spacingAndGlyphs").text("BC");
[[13, 137, 108], [17, 522, 108], [8, 897, 110]].forEach(([ux, uy, ul]) => {
  t.append("text").attr("x", ux).attr("y", uy).attr("font-size", 31)
    .attr("textLength", ul).attr("lengthAdjust", "spacingAndGlyphs").text("(Mt/yr)");
});

// ECP call-outs on the Japan NOx panel
t.append("text").attr("x", 342).attr("y", 497).attr("font-size", 50).attr("font-weight", "bold")
  .attr("textLength", 224).attr("lengthAdjust", "spacingAndGlyphs").text("W/O ECP");
t.append("text").attr("x", 239).attr("y", 565).attr("font-size", 50).attr("font-weight", "bold")
  .attr("textLength", 183).attr("lengthAdjust", "spacingAndGlyphs").text("W. ECP");
pointer(annoLayer, 476, 507, 529, 545);
pointer(annoLayer, 433, 555, 529, 629);

// ---------------------------------------------------------------------------
// Legend
// ---------------------------------------------------------------------------
const lg = svg.append("g");
const legendItems = [
  { text: 215, tx: 165, tlen: 147, solid: 335.6, hatch: 431.7 },
  { tx: 580, tlen: 185.5, solid: 767.3, hatch: 866.5 },
  { tx: 1001.5, tlen: 225, solid: 1239.5, hatch: 1340 },
  { tx: 1462.3, tlen: 159, solid: 1640.5, hatch: null }
];
legendItems.forEach((it, i) => {
  lg.append("text").attr("x", it.tx).attr("y", 1233).attr("font-family", textFont).attr("font-size", 51)
    .attr("textLength", it.tlen).attr("lengthAdjust", "spacingAndGlyphs").text(sectorNames[i]);
  lg.append("rect").attr("x", it.solid + 1).attr("y", 1241.5).attr("width", 93).attr("height", 3).attr("fill", "#a6a6a6");
  lg.append("rect").attr("x", it.solid).attr("y", 1197).attr("width", 93).attr("height", 44.5).attr("fill", legendSolid[i]);
  if (it.hatch !== null) {
    const pat = defs.append("pattern").attr("id", `legend-hatch-${i}`)
      .attr("patternUnits", "userSpaceOnUse").attr("x", it.hatch + 1).attr("y", 1197)
      .attr("width", 8.5).attr("height", 7.8);
    pat.append("rect").attr("width", 8.5).attr("height", 7.8).attr("fill", "#fff");
    pat.append("path").attr("d", "M0,6.6H8.5M7.3,0V7.8").attr("stroke", legendHatch[i]).attr("stroke-width", 2.4);
    lg.append("rect").attr("x", it.hatch + 1).attr("y", 1242).attr("width", 93).attr("height", 2.5).attr("fill", "#a6a6a6");
    lg.append("rect").attr("x", it.hatch).attr("y", 1197).attr("width", 93).attr("height", 44.5)
      .attr("fill", `url(#legend-hatch-${i})`).attr("stroke", "#000").attr("stroke-width", 2);
  }
});
lg.append("text").attr("x", 1845).attr("y", 1253).attr("font-family", textFont).attr("font-size", 51).text("12");

// watermark across the middle row
svg.append("text").attr("x", 426).attr("y", 680).attr("font-family", textFont).attr("font-size", 96)
  .attr("fill", "#ff0000").attr("textLength", 1252).attr("lengthAdjust", "spacingAndGlyphs")
  .text("Unpublished data. Do not site");
</script>
</body>
</html>
